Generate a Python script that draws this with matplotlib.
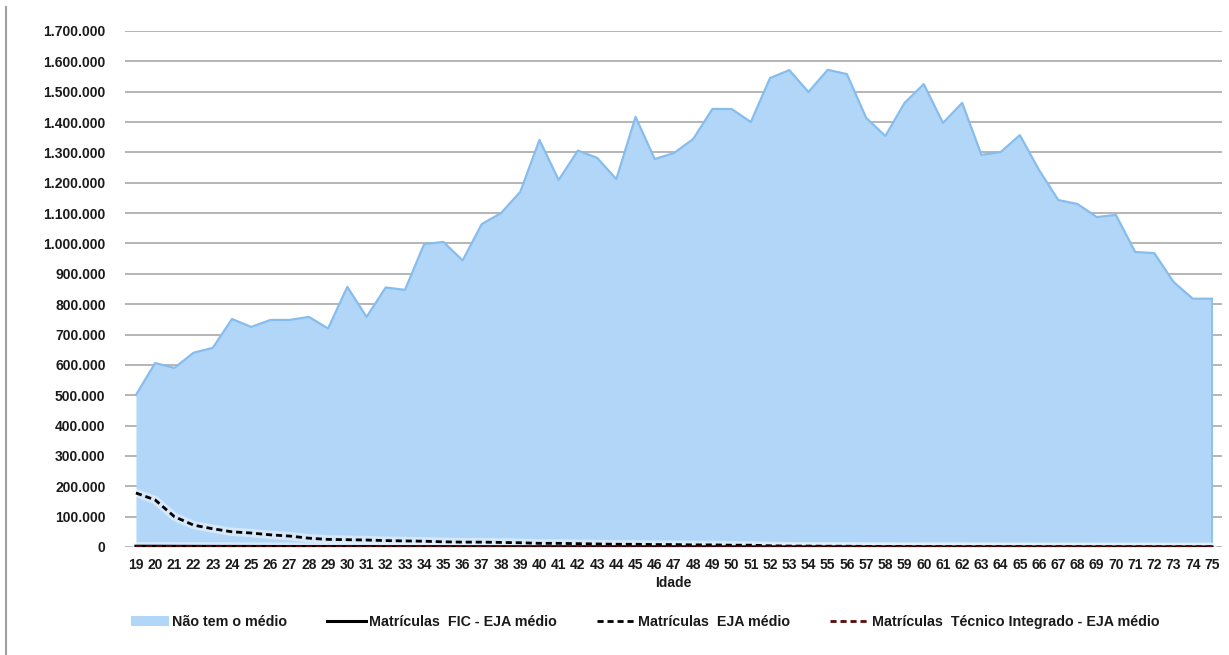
import numpy as np
import matplotlib
matplotlib.use("Agg")
import matplotlib.pyplot as plt
from matplotlib.lines import Line2D
from matplotlib.patches import Patch
from matplotlib.ticker import FuncFormatter

plt.rcParams['font.family'] = ['Liberation Sans', 'DejaVu Sans']

# idades 19..75
idade = list(range(19, 76))

nao_tem_medio = [501000, 606000, 590000, 640000, 656000, 751000, 725000, 748000, 748000, 758000,
                 720000, 857000, 758000, 855000, 847000, 998000, 1005000, 944000, 1064000, 1100000,
                 1170000, 1341000, 1209000, 1306000, 1282000, 1212000, 1417000, 1278000, 1298000, 1344000,
                 1443000, 1443000, 1400000, 1545000, 1571000, 1499000, 1572000, 1558000, 1414000, 1354000,
                 1463000, 1525000, 1397000, 1463000, 1292000, 1301000, 1357000, 1242000, 1143000, 1130000,
                 1087000, 1094000, 972000, 968000, 873000, 818000, 818000]

eja_medio = [178000, 155000, 100000, 72000, 60000, 50000, 46000, 40000, 36000, 29000,
             25000, 24000, 23000, 21000, 20000, 19000, 17000, 16000, 16000, 15000,
             14000, 12000, 12000, 11000, 10000, 9000, 9000, 8000, 8000, 7000,
             7000, 6000, 6000, 4000, 3000, 3000, 2500, 2500, 2000, 2000,
             1800, 1600, 1500, 1400, 1300, 1200, 1100, 1000, 900, 900,
             800, 800, 700, 700, 600, 600, 500]

fic_eja_medio = [2500, 2400, 2200, 2000, 1900, 1800, 1700, 1600, 1500, 1400,
                 1400, 1300, 1300, 1200, 1200, 1100, 1100, 1000, 1000, 1000,
                 900, 900, 900, 800, 800, 800, 700, 700, 700, 600,
                 600, 600, 500, 500, 500, 400, 400, 400, 300, 300,
                 300, 300, 200, 200, 200, 200, 200, 100, 100, 100,
                 100, 100, 100, 100, 100, 100, 100]

tecnico_integrado = [1200, 1100, 1000, 900, 800, 700, 600, 500, 500, 400,
                     400, 400, 300, 300, 300, 300, 200, 200, 200, 200,
                     200, 200, 100, 100, 100, 100, 100, 100, 100, 100,
                     100, 100, 100, 50, 50, 50, 50, 50, 50, 50,
                     50, 50, 50, 50, 50, 50, 50, 50, 50, 50,
                     50, 50, 50, 50, 50, 50, 50]

y_ticks = list(range(0, 1700001, 100000))

area_color = '#b2d6f7'
edge_color = '#86bdee'
text_color = '#1a1a1a'

fig = plt.figure(figsize=(12.29, 6.55), dpi=100)
ax = fig.add_axes([0.1017, 0.1649, 0.8926, 0.7878])

ax.fill_between(idade, nao_tem_medio, 0, color=area_color, lw=0, zorder=2)
ax.plot(idade, nao_tem_medio, color=edge_color, lw=1.6, zorder=3)
ax.plot([idade[-1], idade[-1]], [0, nao_tem_medio[-1]], color=edge_color, lw=1.2, zorder=3)

# glow behind lines
ax.plot(idade, eja_medio, color='white', lw=6, alpha=0.45, zorder=4)
ax.plot(idade, fic_eja_medio, color='#eaf6ff', lw=6, alpha=0.6, zorder=4)

ax.plot(idade, fic_eja_medio, color='black', lw=2.2, zorder=5)
ax.plot(idade, eja_medio, color='black', lw=2.0, ls=(0, (2.2, 1.4)), zorder=6)
ax.plot(idade, tecnico_integrado, color='#5a0a0a', lw=2.0, ls=(0, (2.2, 1.4)), zorder=7)

ax.set_xlim(18.43, 75.52)
ax.set_ylim(0, 1700000)
ax.set_yticks(y_ticks)
ax.yaxis.set_major_formatter(FuncFormatter(lambda v, p: f"{int(v):,}".replace(',', '.')))
ax.set_xticks(idade)
ax.set_xticklabels([str(a) for a in idade])
ax.grid(axis='y', color='#b5b5b5', lw=1.4, zorder=0)
ax.set_axisbelow(True)
for s in ax.spines.values():
    s.set_visible(False)
ax.tick_params(axis='both', length=0, colors=text_color, labelsize=10)
ax.tick_params(axis='y', pad=14)
ax.tick_params(axis='x', pad=8)
for lbl in ax.get_xticklabels() + ax.get_yticklabels():
    lbl.set_fontweight('bold')
ax.set_xlabel('Idade', fontsize=10, fontweight='bold', color=text_color, labelpad=3)

handles = [
    Patch(facecolor=area_color, edgecolor='none'),
    Line2D([], [], color='black', lw=2.2),
    Line2D([], [], color='black', lw=2.0, ls=(0, (2.2, 1.4))),
    Line2D([], [], color='#5a0a0a', lw=2.0, ls=(0, (2.2, 1.4))),
]
labels = ['Não tem o médio', 'Matrículas  FIC - EJA médio', 'Matrículas  EJA médio',
          'Matrículas  Técnico Integrado - EJA médio']
leg = fig.legend(handles, labels, loc='center left', bbox_to_anchor=(0.096, 0.05), ncol=4,
                 frameon=False, handlelength=2.7, handletextpad=0.2, columnspacing=2.8,
                 prop={'weight': 'bold', 'size': 10.3})
for t in leg.get_texts():
    t.set_color(text_color)

# left border of the picture
fig.add_artist(Line2D([0.005, 0.005], [0.0, 0.99], transform=fig.transFigure, color='#a0a0a0', lw=1.5))

fig.savefig('out.png', dpi=100)
